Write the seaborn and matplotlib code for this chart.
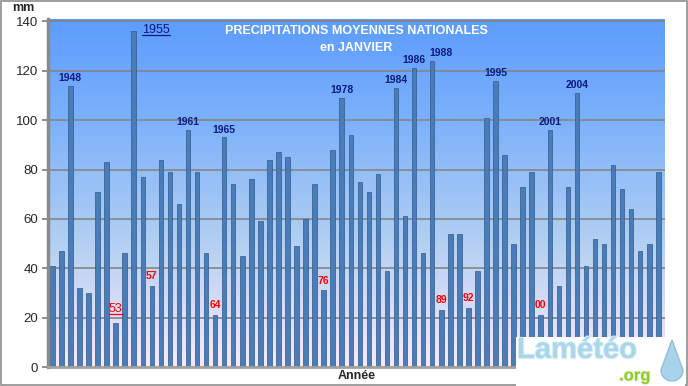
"""Précipitations moyennes nationales en janvier (1946-2013)"""

import numpy as np
import pandas as pd
import matplotlib
matplotlib.use("Agg")
import matplotlib.pyplot as plt
import matplotlib.patheffects as pe
from matplotlib.colors import LinearSegmentedColormap
from matplotlib.lines import Line2D
from matplotlib.patches import Rectangle, Polygon
import seaborn as sns

years = list(range(1946, 2014))
precip = [41, 47, 114, 32, 30, 71, 83, 18, 46, 136,
          77, 33, 84, 79, 66, 96, 79, 46, 21, 93,
          74, 45, 76, 59, 84, 87, 85, 49, 60, 74,
          31, 88, 109, 94, 75, 71, 78, 39, 113, 61,
          121, 46, 124, 23, 54, 54, 24, 39, 101, 116,
          86, 50, 73, 79, 21, 96, 33, 73, 111, 41,
          52, 50, 82, 72, 64, 47, 50, 79]

# années remarquables (bleu = records hauts, rouge = records bas)
wet_years = [1948, 1961, 1965, 1978, 1984, 1986, 1988, 1995, 2001, 2004]
dry_years = [1957, 1964, 1976, 1989, 1992, 2000]
wettest = 1955
driest = 1953

df = pd.DataFrame({"annee": [str(y) for y in years], "mm": precip})

sns.set_theme(style="white")
plt.rcParams["font.family"] = ["Liberation Sans", "DejaVu Sans"]

fig = plt.figure(figsize=(6.88, 3.86), dpi=100)
ax = fig.add_axes([48 / 688, 1 - 367 / 386, 617 / 688, 348 / 386])

xlim = (-0.48, 67.74)
ylim = (0, 141)

# fond dégradé
cmap = LinearSegmentedColormap.from_list(
    "fond", [(0.0, "#fbe9fb"), (0.35, "#b4d0f2"), (0.7, "#7db2fb"), (1.0, "#5d9cfe")])
grad = np.linspace(0, 1, 256)[:, None]
ax.imshow(grad, extent=[xlim[0], xlim[1], ylim[0], ylim[1]], origin="lower",
          aspect="auto", cmap=cmap, zorder=0)

for v in range(20, 141, 20):
    ax.axhline(v, color="#858585", lw=1.2, zorder=1)

sns.barplot(data=df, x="annee", y="mm", color="#4a7cb8", saturation=1,
            width=0.5, edgecolor="#2e5a8e", linewidth=0.5, ax=ax, zorder=2)

ax.set_xlim(*xlim)
ax.set_ylim(*ylim)
ax.set_yticks(range(0, 141, 20))
ax.set_xticks([])
ax.tick_params(axis="y", labelsize=9.5, length=4, color="#808080", left=True, pad=3)
ax.set_xlabel("Année", fontsize=9, fontweight="bold", labelpad=2)
ax.set_ylabel("")
for s in ["top", "right"]:
    ax.spines[s].set_visible(False)
ax.spines["left"].set_color("#8a8a8a")
ax.spines["left"].set_linewidth(2.5)
ax.spines["bottom"].set_color("#a0a0a0")
ax.spines["bottom"].set_linewidth(2)

idx = {y: i for i, y in enumerate(years)}
for y in wet_years:
    i = idx[y]
    dx = 1.0 if y == 1988 else 0
    ax.text(i + dx, precip[i] + 1.2, str(y), ha="center", va="bottom",
            fontsize=7.5, fontweight="bold", color="#0a1a80", zorder=3)
for y in dry_years:
    i = idx[y]
    ax.text(i, precip[i] + 2.0, f"{y % 100:02d}", ha="center", va="bottom",
            fontsize=7.5, fontweight="bold", color="#ff0000", zorder=3)

t1 = ax.text(idx[wettest] + 2.5, precip[idx[wettest]] + 0.5, str(wettest),
             ha="center", va="center", fontsize=9, color="#0a1a80", zorder=3)
t2 = ax.text(idx[driest], precip[idx[driest]] + 5.5, f"{driest % 100}",
             ha="center", va="center", fontsize=9, color="#ff0000", zorder=3)

ax.text(0.5, 0.965, "PRECIPITATIONS MOYENNES NATIONALES",
        transform=ax.transAxes, ha="center", va="center", fontsize=9,
        fontweight="bold", color="white", zorder=3)
ax.text(0.5, 0.918, "en JANVIER",
        transform=ax.transAxes, ha="center", va="center", fontsize=9,
        fontweight="bold", color="white", zorder=3)

fig.text(12 / 688, 1 - 8 / 386, "mm", fontsize=9, fontweight="bold", va="center")

# soulignement des deux records
fig.canvas.draw()
r = fig.canvas.get_renderer()
for t in (t1, t2):
    bb = t.get_window_extent(r)
    yy = (bb.y0 + 1) / fig.bbox.height
    fig.add_artist(Line2D([bb.x0 / fig.bbox.width, bb.x1 / fig.bbox.width], [yy, yy],
                          color=t.get_color(), lw=0.9))

# logo
W, H = fig.bbox.width, fig.bbox.height
fig.add_artist(Rectangle((516 / W, 0), 169 / W, 49 / H, facecolor="white",
                         edgecolor="none", transform=fig.transFigure, zorder=4))
fig.text(517 / W, 1 - 350 / H, "Lamétéo", fontsize=21, fontweight="bold",
         color="#a9d6ea", va="center", ha="left", zorder=5,
         path_effects=[pe.withStroke(linewidth=1.5, foreground="#d8eef7")])
fig.text(619 / W, 1 - 376 / H, ".org", fontsize=12, fontweight="bold",
         color="#8ccc2a", va="center", ha="left", zorder=5,
         path_effects=[pe.withStroke(linewidth=1.2, foreground="#e6f5c8")])
ang = np.linspace(0, np.pi, 30)
cx, cy, rad = 672, 1 - 370 / H, 11
drop = [((cx + rad * np.cos(a)) / W, cy - rad * np.sin(a) / H) for a in ang]
drop = drop + [(cx / W, 1 - 340 / H)]
fig.add_artist(Polygon(drop, closed=True, facecolor="#a9d3ea", edgecolor="#8cc0de",
                       transform=fig.transFigure, zorder=5))

# cadre
fig.add_artist(Rectangle((0.001, 0.002), 0.997, 0.996, fill=False, edgecolor="#8c8c8c",
                         lw=1.2, transform=fig.transFigure))

fig.savefig("out.png", dpi=100)
